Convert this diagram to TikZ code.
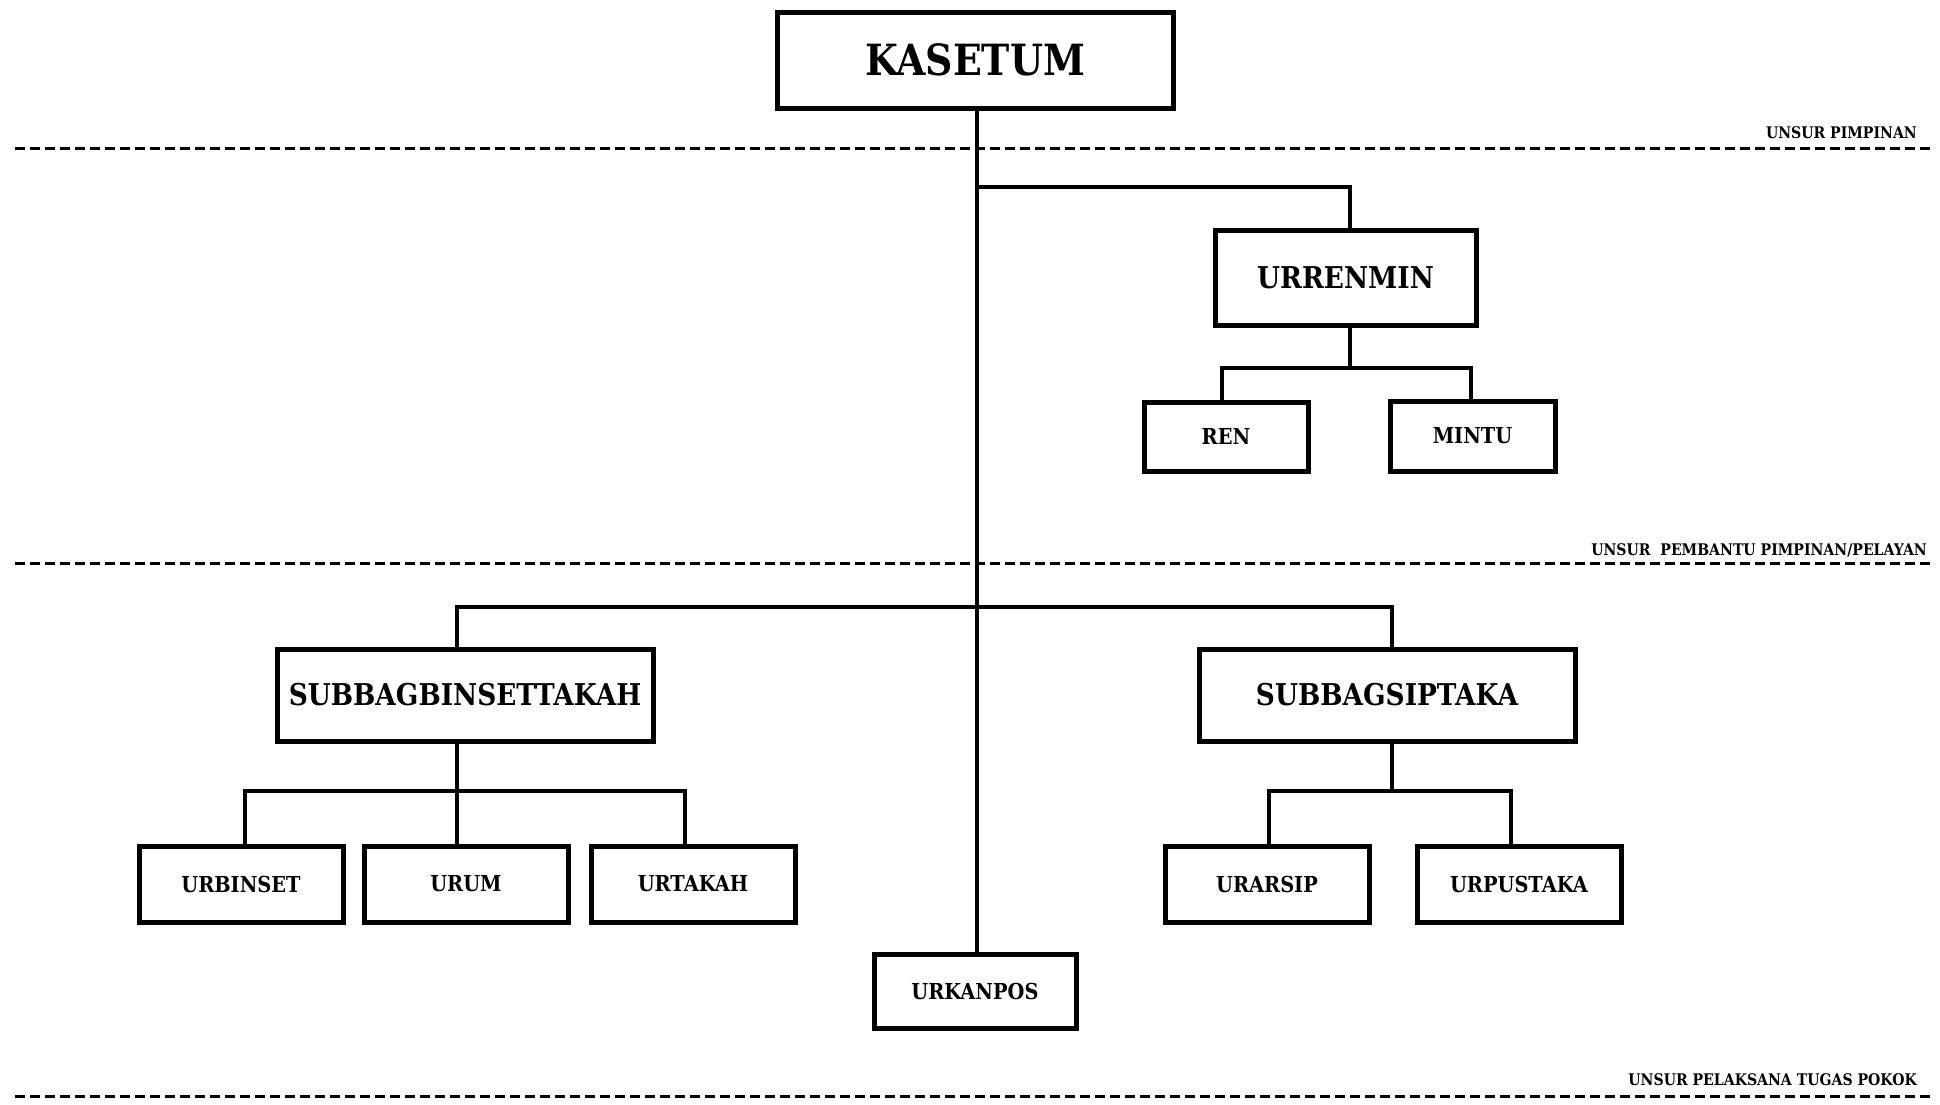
\documentclass[tikz,border=0pt]{standalone}
\usepackage{fontspec}
\setmainfont{DejaVu Serif}[FakeStretch=0.88]
\usetikzlibrary{calc}
\begin{document}
\begin{tikzpicture}[x=1pt,y=-1pt,
  box/.style={draw=black,line width=5pt,fill=white,rectangle,inner sep=0pt},
  fbig/.style={font=\bfseries\fontsize{43}{50}\selectfont},
  fmid/.style={font=\bfseries\fontsize{30}{35}\selectfont},
  fsmall/.style={font=\bfseries\fontsize{22}{26}\selectfont},
  flabel/.style={font=\bfseries\fontsize{16}{19}\selectfont,inner sep=0pt,anchor=base east},
  conn/.style={line width=4.5pt,line cap=rect,line join=miter},
  sep/.style={line width=3pt,dash pattern=on 10pt off 5pt,black}]
\useasboundingbox (0,0) rectangle (1940,1104);

% separator lines
\draw[sep] (15,148) -- (1930,148);
\draw[sep] (15,563) -- (1930,563);
\draw[sep] (15,1096) -- (1930,1096);
\node[flabel] (lab1) at (1917,138) {UNSUR PIMPINAN};
\node[flabel] (lab2) at (1927,555) {UNSUR\ \ PEMBANTU PIMPINAN/PELAYAN};
\node[flabel] (lab3) at (1917,1085) {UNSUR PELAKSANA TUGAS POKOK};

% bus coordinates
\coordinate (b1) at (977,187);
\coordinate (b2) at (1350,368);
\coordinate (b2l) at (1222,368);
\coordinate (b2r) at (1471,368);
\coordinate (b3) at (977,607);
\coordinate (b4) at (457,791);
\coordinate (b4l) at (245,791);
\coordinate (b4r) at (685,791);
\coordinate (b5) at (1392,791);
\coordinate (b5l) at (1269,791);
\coordinate (b5r) at (1511,791);

% connectors (drawn first, boxes on top)
\draw[conn] (977,110) -- (977,952);
\draw[conn] (b1) -| (1350,228);
\draw[conn] (1350,327) -- (b2);
\draw[conn] (b2l) -- (b2r);
\draw[conn] (b2l) -- (1222,400);
\draw[conn] (b2r) -- (1471,399);
\draw[conn] (457,647) |- (b3) -| (1392,647);
\draw[conn] (457,743) -- (b4);
\draw[conn] (b4l) -- (b4r);
\draw[conn] (b4l) -- (245,844);
\draw[conn] (b4) -- (457,844);
\draw[conn] (b4r) -- (685,844);
\draw[conn] (1392,743) -- (b5);
\draw[conn] (b5l) -- (b5r);
\draw[conn] (b5l) -- (1269,844);
\draw[conn] (b5r) -- (1511,844);

% boxes
\node[box,fbig,minimum width=396pt,minimum height=96pt] (kasetum) at (975,60) {KASETUM};
\node[box,fmid,minimum width=261pt,minimum height=95pt] (urrenmin) at (1345.5,277.5) {URRENMIN};
\node[box,fsmall,minimum width=164pt,minimum height=69pt] (ren) at (1226,436.5) {REN};
\node[box,fsmall,minimum width=165pt,minimum height=70pt] (mintu) at (1472.5,436) {MINTU};
\node[box,fmid,minimum width=376pt,minimum height=92pt] (sbbin) at (465,695) {SUBBAGBINSETTAKAH};
\node[box,fmid,minimum width=376pt,minimum height=92pt] (sbsip) at (1387,695) {SUBBAGSIPTAKA};
\node[box,fsmall,minimum width=204pt,minimum height=76pt] (urbinset) at (241,884) {URBINSET};
\node[box,fsmall,minimum width=204pt,minimum height=76pt] (urum) at (466,884) {URUM};
\node[box,fsmall,minimum width=204pt,minimum height=76pt] (urtakah) at (693,884) {URTAKAH};
\node[box,fsmall,minimum width=204pt,minimum height=76pt] (urarsip) at (1267,884) {URARSIP};
\node[box,fsmall,minimum width=204pt,minimum height=76pt] (urpustaka) at (1519,884) {URPUSTAKA};
\node[box,fsmall,minimum width=202pt,minimum height=74pt] (urkanpos) at (975,991) {URKANPOS};
\end{tikzpicture}
\end{document}
